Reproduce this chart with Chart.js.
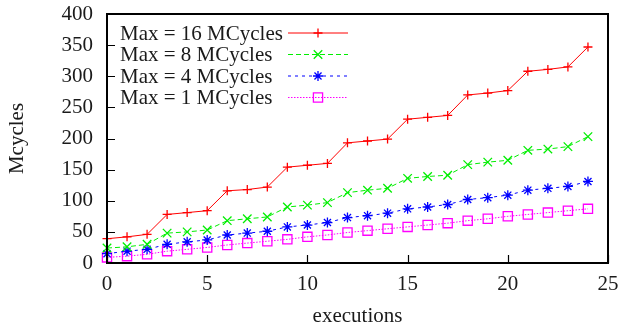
<!DOCTYPE html>
<html>
<head>
<meta charset="utf-8">
<script src="https://cdn.jsdelivr.net/npm/chart.js@4/dist/chart.umd.min.js"></script>
<style>
  html, body { margin: 0; padding: 0; background: #fff; }
  #wrap { width: 621px; height: 329px; }
</style>
</head>
<body>
<div id="wrap"><canvas id="cyclesChart" width="621" height="329"></canvas></div>
<script>
const executions = Array.from({ length: 25 }, (_, i) => i);

const max16 = [39, 42, 46, 78, 81, 84, 116, 118, 122, 154, 157, 160, 193, 196, 199, 231, 234, 237, 270, 273, 277, 308, 311, 315, 347];
const max8  = [24, 26, 30, 48, 50, 53, 68, 71, 74, 90, 93, 97, 113, 117, 120, 136, 139, 141, 158, 162, 165, 181, 183, 187, 203];
const max4  = [15, 19, 22, 30, 34, 37, 45, 48, 51, 58, 61, 65, 73, 76, 80, 87, 90, 94, 102, 105, 109, 117, 120, 123, 131];
const max1  = [9, 11, 14, 19, 22, 25, 29, 32, 35, 38, 42, 45, 49, 52, 55, 58, 61, 64, 68, 71, 75, 78, 81, 84, 87];

const seriesLabels = ['Max = 16 MCycles', 'Max = 8 MCycles', 'Max = 4 MCycles', 'Max = 1 MCycles'];
const xTicks = [0, 5, 10, 15, 20, 25];
const yTicks = [0, 50, 100, 150, 200, 250, 300, 350, 400];

const FONT = "'Liberation Serif', 'Times New Roman', serif";
const TEXT = '#1a1a1a';

const toPoints = arr => arr.map((v, i) => ({ x: executions[i], y: v }));

// box border with inward ticks on left and bottom only
function drawFrame(chart) {
    const ctx = chart.ctx;
    const a = chart.chartArea;
    const sx = chart.scales.x, sy = chart.scales.y;
    ctx.save();
    ctx.globalAlpha = 1;
    ctx.globalCompositeOperation = 'source-over';
    ctx.setLineDash([]);
    ctx.strokeStyle = '#000000';
    ctx.lineWidth = 2;
    ctx.strokeRect(a.left, a.top, a.right - a.left, a.bottom - a.top);
    ctx.lineWidth = 1.2;
    ctx.beginPath();
    yTicks.forEach(v => {
        const y = Math.round(sy.getPixelForValue(v)) + 0.5;
        ctx.moveTo(a.left, y);
        ctx.lineTo(a.left + 8, y);
    });
    xTicks.forEach(v => {
        const x = Math.round(sx.getPixelForValue(v)) + 0.5;
        ctx.moveTo(x, a.bottom);
        ctx.lineTo(x, a.bottom - 8);
    });
    ctx.stroke();
    ctx.restore();
}

function drawMarker(ctx, ds, x, y) {
    ctx.fillStyle = 'rgba(0,0,0,0)';
    ctx.strokeStyle = ds.pointBorderColor;
    ctx.lineWidth = ds.pointBorderWidth;
    ctx.setLineDash([]);
    Chart.helpers.drawPoint(ctx, {
        pointStyle: ds.pointStyle,
        radius: ds.pointRadius,
        rotation: 0,
        borderWidth: ds.pointBorderWidth
    }, x, y);
}

// legend in the top-left corner: text first, then the line sample
function drawKey(chart) {
    const { ctx } = chart;
    ctx.save();
    chart.data.datasets.forEach((ds, i) => {
        const y = 33 + i * 21.5;
        ctx.font = `21px ${FONT}`;
        ctx.fillStyle = TEXT;
        ctx.textAlign = 'left';
        ctx.textBaseline = 'middle';
        ctx.fillText(ds.label, 120, y + 1);

        ctx.strokeStyle = ds.borderColor;
        ctx.lineWidth = ds.borderWidth;
        ctx.setLineDash(ds.borderDash || []);
        ctx.beginPath();
        ctx.moveTo(288, y);
        ctx.lineTo(348, y);
        ctx.stroke();
        drawMarker(ctx, ds, 318, y);
    });
    ctx.restore();
}

const gnuplotLook = {
    id: 'gnuplotLook',
    afterDraw(chart) {
        drawFrame(chart);
        drawKey(chart);
    }
};

const baseSet = {
    borderWidth: 1,
    pointBorderWidth: 1.3,
    pointBackgroundColor: 'rgba(0,0,0,0)',
    fill: false,
    tension: 0,
    clip: false
};

new Chart(document.getElementById('cyclesChart'), {
    type: 'line',
    data: {
        datasets: [
            { ...baseSet, label: seriesLabels[0], data: toPoints(max16), borderColor: '#ff0000', pointBorderColor: '#ff0000', pointStyle: 'cross', pointRadius: 4.5 },
            { ...baseSet, label: seriesLabels[1], data: toPoints(max8), borderColor: '#00ee00', pointBorderColor: '#00ee00', pointStyle: 'crossRot', pointRadius: 6, borderDash: [5, 3] },
            { ...baseSet, label: seriesLabels[2], data: toPoints(max4), borderColor: '#0000ff', pointBorderColor: '#0000ff', pointStyle: 'star', pointRadius: 5, borderDash: [3, 4] },
            { ...baseSet, label: seriesLabels[3], data: toPoints(max1), borderColor: '#ff00ff', pointBorderColor: '#ff00ff', pointStyle: 'rect', pointRadius: 6.5, borderDash: [1.5, 1.5] }
        ]
    },
    options: {
        responsive: false,
        animation: false,
        layout: { padding: 0 },
        plugins: {
            legend: { display: false },
            tooltip: { enabled: false }
        },
        scales: {
            x: {
                type: 'linear',
                min: 0,
                max: 25,
                afterBuildTicks: s => { s.ticks = xTicks.map(v => ({ value: v })); },
                afterFit: s => { s.height = 66; s.paddingLeft = 0; s.paddingRight = 13; },
                grid: { display: false, drawTicks: false },
                border: { display: false },
                ticks: { color: TEXT, padding: 9, maxRotation: 0, font: { family: FONT, size: 21 } },
                title: { display: true, text: 'executions', color: TEXT, padding: { top: 0, bottom: 0 }, font: { family: FONT, size: 21 } }
            },
            y: {
                type: 'linear',
                min: 0,
                max: 400,
                afterBuildTicks: s => { s.ticks = yTicks.map(v => ({ value: v })); },
                afterFit: s => { s.width = 107; s.paddingTop = 14; s.paddingBottom = 0; },
                grid: { display: false, drawTicks: false },
                border: { display: false },
                ticks: { color: TEXT, padding: 14, font: { family: FONT, size: 21 } },
                title: { display: true, text: 'Mcycles', color: TEXT, padding: { top: 5, bottom: 0 }, font: { family: FONT, size: 21 } }
            }
        }
    },
    plugins: [gnuplotLook]
});
</script>
</body>
</html>
